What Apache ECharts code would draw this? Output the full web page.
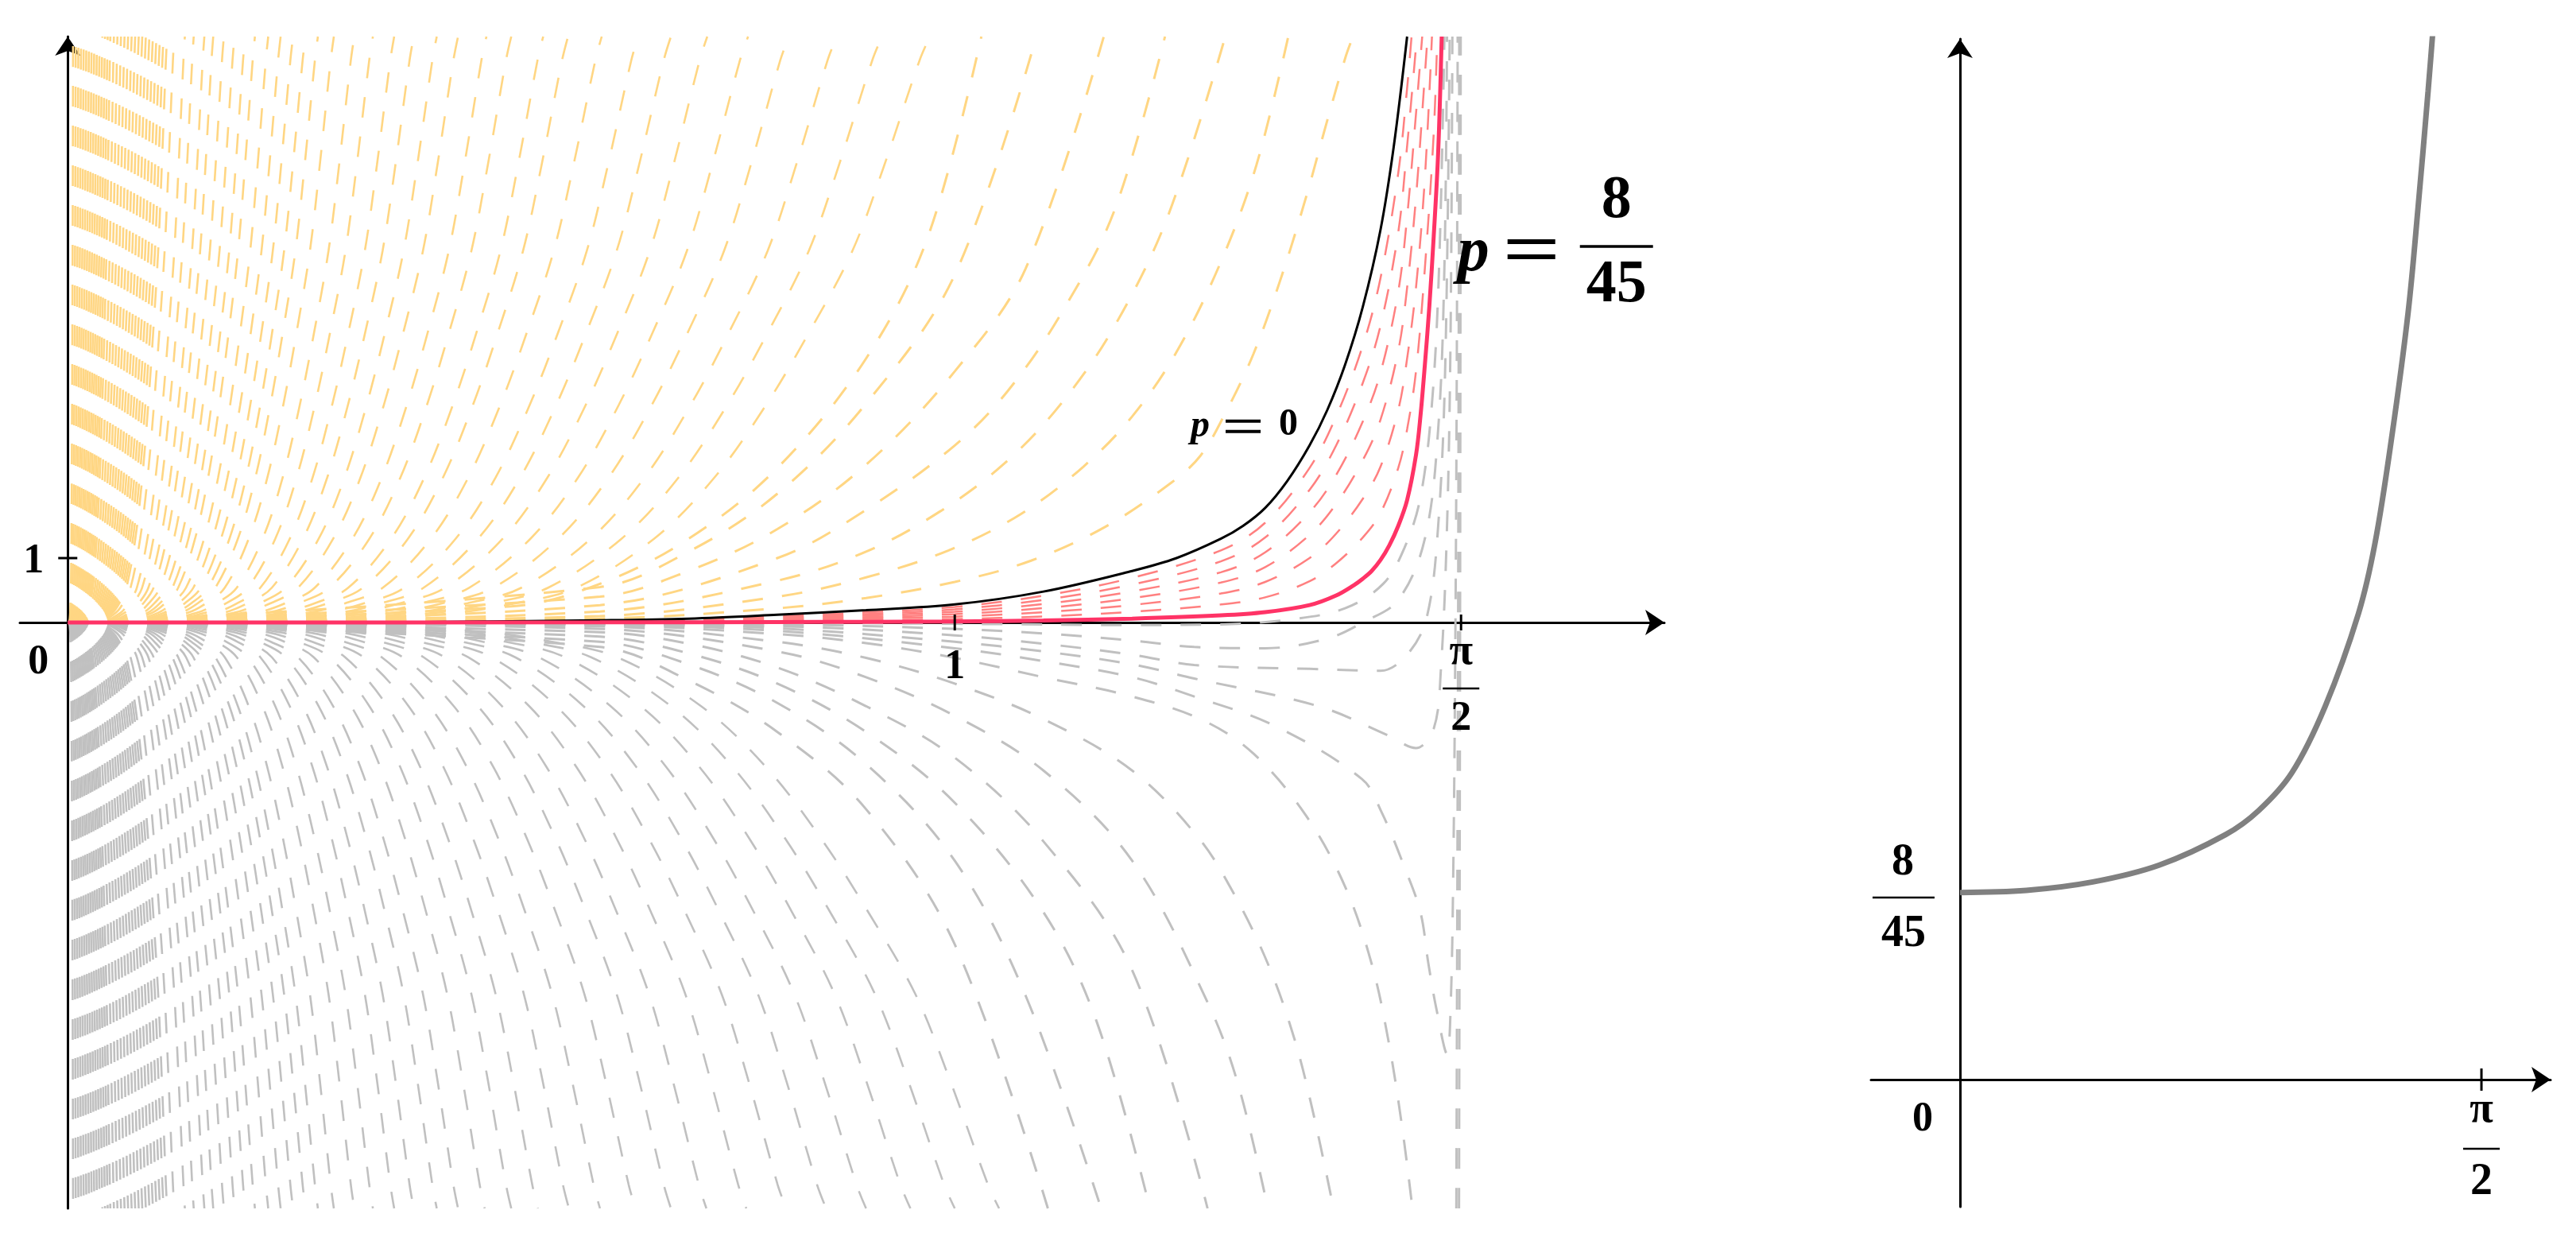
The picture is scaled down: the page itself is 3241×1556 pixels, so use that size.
<!DOCTYPE html>
<html>
<head>
<meta charset="utf-8">
<title>p curves</title>
<script src="https://cdn.jsdelivr.net/npm/echarts@6/dist/echarts.min.js"></script>
<style>
  html, body { margin: 0; padding: 0; background: #fff; }
  #chart { width: 3241px; height: 1556px; }
</style>
</head>
<body>
<div id="chart"></div>
<script>
// ---- data ----

// left plot: p = 0 (black)
const blackCurve = [[0,0],[0.4,0.007],[0.6,0.035],[0.7,0.06],[0.8,0.12],[0.9,0.19],[1.0,0.28],[1.1,0.48],[1.2,0.8],[1.25,1.0],[1.3,1.3],[1.325,1.5],[1.35,1.78],[1.375,2.2],[1.4,2.75],[1.42,3.3],[1.44,4.0],[1.46,4.9],[1.48,6.1],[1.495,7.4],[1.51,9.1]];

// left plot: p = 8/45 (red, thick)
const redCurve = [[0,0],[0.6,0.002],[0.8,0.006],[0.9,0.01],[1.0,0.015],[1.1,0.03],[1.2,0.06],[1.3,0.11],[1.35,0.16],[1.4,0.27],[1.43,0.42],[1.45,0.58],[1.46,0.68],[1.47,0.8],[1.48,0.97],[1.49,1.2],[1.5,1.5],[1.51,1.9],[1.52,2.6],[1.525,3.2],[1.53,4.0],[1.535,4.9],[1.54,6.0],[1.545,7.3],[1.549,9.1]];

// dashed red curves between p = 0 and p = 8/45
const redDash1 = [[0,0],[0.6,0.026],[0.8,0.095],[0.9,0.156],[1.0,0.242],[1.1,0.416],[1.2,0.694],[1.3,1.12],[1.35,1.55],[1.4,2.4],[1.43,3.2],[1.46,4.3],[1.48,5.35],[1.5,6.98],[1.51,8.3],[1.515,9.1]];
const redDash2 = [[0,0],[0.6,0.022],[0.8,0.080],[0.9,0.131],[1.0,0.204],[1.1,0.351],[1.2,0.589],[1.3,0.95],[1.35,1.32],[1.4,2.06],[1.43,2.75],[1.46,3.72],[1.48,4.61],[1.5,6.06],[1.51,7.4],[1.521,9.1]];
const redDash3 = [[0,0],[0.6,0.018],[0.8,0.065],[0.9,0.107],[1.0,0.166],[1.1,0.287],[1.2,0.483],[1.3,0.78],[1.35,1.09],[1.4,1.71],[1.43,2.29],[1.46,3.12],[1.48,3.88],[1.5,5.14],[1.51,6.3],[1.52,7.9],[1.527,9.1]];
const redDash4 = [[0,0],[0.6,0.014],[0.8,0.051],[0.9,0.083],[1.0,0.129],[1.1,0.223],[1.2,0.377],[1.3,0.62],[1.35,0.86],[1.4,1.36],[1.43,1.84],[1.46,2.52],[1.48,3.15],[1.5,4.22],[1.51,5.2],[1.52,6.6],[1.53,8.5],[1.533,9.1]];
const redDash5 = [[0,0],[0.6,0.010],[0.8,0.036],[0.9,0.059],[1.0,0.091],[1.1,0.159],[1.2,0.272],[1.3,0.45],[1.35,0.63],[1.4,1.0],[1.43,1.38],[1.46,1.92],[1.48,2.42],[1.5,3.3],[1.51,4.1],[1.52,5.2],[1.53,6.9],[1.538,9.1]];
const redDash6 = [[0,0],[0.6,0.006],[0.8,0.021],[0.9,0.034],[1.0,0.053],[1.1,0.094],[1.2,0.166],[1.3,0.28],[1.35,0.39],[1.4,0.64],[1.43,0.92],[1.46,1.32],[1.48,1.7],[1.5,2.4],[1.51,3.0],[1.52,3.9],[1.53,5.5],[1.54,7.6],[1.544,9.1]];

// orange dashed curves just above the black one (traced one by one)
const orange1 = [[0,0],[0.6,0.06],[0.8,0.22],[0.9,0.38],[1.0,0.63],[1.086,0.96],[1.169,1.48],[1.244,2.17],[1.277,2.59],[1.305,3.25],[1.337,4.18],[1.369,5.4],[1.397,6.65],[1.42,7.8],[1.441,8.8],[1.449,9.1]];
const orange2 = [[0,0],[0.6,0.1],[0.8,0.4],[0.9,0.7],[0.993,1.12],[1.074,1.68],[1.145,2.42],[1.2,3.2],[1.25,4.2],[1.3,5.6],[1.34,7.1],[1.376,9.1]];
const orange3 = [[0,0],[0.6,0.17],[0.8,0.65],[0.9,1.1],[0.984,1.73],[1.056,2.47],[1.12,3.4],[1.18,4.6],[1.24,6.3],[1.305,9.1]];
const orange4 = [[0,0],[0.6,0.27],[0.8,1.0],[0.9,1.75],[1.0,2.75],[1.06,3.6],[1.12,4.8],[1.18,6.4],[1.237,9.1]];
const orange5 = [[0,0],[0.6,0.4],[0.7,0.8],[0.8,1.45],[0.9,2.45],[1.0,3.9],[1.08,5.5],[1.168,9.1]];
const orange6 = [[0,0],[0.6,0.55],[0.7,1.1],[0.8,2.0],[0.9,3.4],[1.0,5.4],[1.092,9.1]];
const orange7 = [[0,0],[0.5,0.25],[0.6,0.6],[0.7,1.3],[0.8,2.4],[0.9,4.1],[0.97,6.0],[1.03,9.1]];

// gray dashed curves on the right side (traced one by one)
const gray1 = [[0,0],[0.6,-0.38],[0.7,-0.9],[0.8,-1.7],[0.9,-2.9],[1.0,-5.0],[1.105,-9.1]];
const gray2 = [[0,0],[0.6,-0.3],[0.7,-0.65],[0.8,-1.25],[0.9,-2.2],[1.0,-3.7],[1.08,-5.8],[1.165,-9.1]];
const gray3 = [[0,0],[0.6,-0.22],[0.7,-0.48],[0.8,-0.95],[0.9,-1.7],[1.0,-2.8],[1.1,-4.5],[1.16,-6.2],[1.22,-9.1]];
const gray4 = [[0,0],[0.6,-0.15],[0.7,-0.33],[0.8,-0.7],[0.9,-1.3],[1.0,-2.1],[1.1,-3.4],[1.2,-5.4],[1.285,-9.1]];
const gray5 = [[0,0],[0.6,-0.1],[0.8,-0.45],[0.9,-0.85],[1.0,-1.45],[1.1,-2.3],[1.2,-3.7],[1.286,-5.93],[1.32,-7.2],[1.353,-9.1]];
const gray6 = [[0,0],[0.6,-0.06],[0.8,-0.3],[0.9,-0.55],[1.0,-0.95],[1.1,-1.5],[1.2,-2.3],[1.274,-3.33],[1.313,-4.17],[1.353,-5.3],[1.383,-6.47],[1.405,-7.67],[1.427,-9.1]];
const gray7 = [[0,0],[0.6,-0.04],[0.8,-0.18],[0.9,-0.32],[1.0,-0.55],[1.1,-0.85],[1.2,-1.15],[1.28,-1.52],[1.337,-2.04],[1.396,-3.0],[1.44,-4.1],[1.47,-5.3],[1.489,-6.5],[1.504,-7.8],[1.516,-9.1]];
const gray8 = [[0,0],[0.6,-0.03],[0.8,-0.13],[1.0,-0.4],[1.1,-0.6],[1.2,-0.85],[1.27,-1.15],[1.36,-1.6],[1.459,-2.43],[1.481,-2.94],[1.507,-3.8],[1.525,-4.5],[1.534,-5.3],[1.543,-6.0],[1.555,-6.7],[1.559,-6.0],[1.562,-3.9],[1.5645,0],[1.566,4],[1.567,9.1]];
const gray9 = [[0,0],[0.6,-0.02],[0.8,-0.09],[1.0,-0.3],[1.1,-0.45],[1.2,-0.65],[1.27,-0.87],[1.41,-1.3],[1.488,-1.75],[1.52,-1.95],[1.54,-1.65],[1.548,-0.75],[1.555,1.5],[1.559,4.5],[1.561,9.1]];
const gray10 = [[0,0],[0.8,-0.06],[1.0,-0.2],[1.1,-0.33],[1.2,-0.5],[1.27,-0.66],[1.4,-0.72],[1.48,-0.75],[1.51,-0.5],[1.532,0.07],[1.545,1.5],[1.553,4.0],[1.558,9.1]];
const gray11 = [[0,0],[0.8,-0.03],[1.0,-0.1],[1.1,-0.17],[1.2,-0.28],[1.27,-0.38],[1.35,-0.4],[1.42,-0.25],[1.46,0],[1.5,0.35],[1.53,1.3],[1.545,3.0],[1.552,5.5],[1.555,9.1]];
const gray12 = [[0,0],[0.8,-0.005],[1.0,-0.02],[1.2,-0.04],[1.3,-0.03],[1.38,0.05],[1.44,0.22],[1.483,0.6],[1.507,1.16],[1.525,1.94],[1.538,3.4],[1.546,5.5],[1.552,9.1]];
// gray branches coming back up along x = pi/2
const grayBack1 = [[1.5655,-9.1],[1.5675,0],[1.5688,9.1]];
const grayBack2 = [[1.5685,-9.1],[1.5697,0],[1.5704,9.1]];

// shape of one traced fan curve: [x / exit x, y]
const fanProfile = [[0,0],[0.3,0.02],[0.45,0.15],[0.52,0.3],[0.59,0.54],[0.68,1.3],[0.75,2.25],[0.81,3.38],[0.86,4.51],[0.91,5.77],[0.947,7.1],[0.988,8.73],[1.0,9.1]];

// x where the thin fan curves leave the plot (near the y axis they sit tight)
const denseExits = [0.006,0.009,0.012,0.015,0.018,0.021,0.024,0.027,0.03,0.033,0.036,0.039,0.042,0.045,0.048,0.052,0.056,0.060,0.064,0.068,0.072,0.076,0.080,0.084,0.088,0.092,0.096,0.100,0.104,0.108,0.112];
const orangeExits = [0.120,0.132,0.142,0.154,0.164,0.176,0.188,0.200,0.211,0.226,0.240,0.254,0.268,0.282,0.300,0.323,0.344,0.368,0.390,0.416,0.440,0.472,0.500,0.536,0.564,0.602,0.643,0.680,0.721,0.767,0.813,0.867,0.918,0.972];
const grayExits = [0.120,0.132,0.142,0.154,0.164,0.176,0.188,0.200,0.211,0.226,0.240,0.254,0.268,0.282,0.300,0.323,0.344,0.368,0.390,0.416,0.440,0.470,0.500,0.530,0.565,0.600,0.640,0.680,0.720,0.765,0.810,0.855,0.900,0.950,1.000,1.050];

// right plot: gray curve starting at 8/45
const rightCurve = [[0,0.178],[0.2,0.180],[0.4,0.188],[0.6,0.204],[0.8,0.233],[0.9,0.256],[1.0,0.292],[1.1,0.355],[1.2,0.443],[1.25,0.510],[1.3,0.610],[1.35,0.730],[1.38,0.830],[1.41,0.940],[1.43,1.02]];

// ---- chart ----
const chart = echarts.init(document.getElementById('chart'));

const ORANGE = '#FFD683';
const GRAY = '#C0C0C0';
const SALMON = '#FF8080';
const RED = '#FF3366';
const DASH = [26, 24];

function line(data, color, width, z, dashed, grid) {
  return {
    type: 'line',
    xAxisIndex: grid || 0,
    yAxisIndex: grid || 0,
    data: data,
    symbol: 'none',
    smooth: 0.35,
    clip: true,
    silent: true,
    z: z,
    lineStyle: { color: color, width: width, type: dashed ? DASH : 'solid' }
  };
}

function fan(exit, sign) {
  return fanProfile.map(p => [p[0] * exit, sign * p[1]]);
}

const series = [];
denseExits.concat(grayExits).forEach(e => series.push(line(fan(e, -1), GRAY, 2.6, 1, true)));
[gray1, gray2, gray3, gray4, gray5, gray6, gray7, gray8, gray9, gray10, gray11, gray12, grayBack1, grayBack2]
  .forEach(c => series.push(line(c, GRAY, 3, 1, true)));
denseExits.concat(orangeExits).forEach(e => series.push(line(fan(e, 1), ORANGE, 2.6, 1, true)));
[orange1, orange2, orange3, orange4, orange5, orange6, orange7]
  .forEach(c => series.push(line(c, ORANGE, 3, 1, true)));
[redDash1, redDash2, redDash3, redDash4, redDash5, redDash6]
  .forEach(c => series.push(line(c, SALMON, 2.5, 2, true)));
series.push(line(blackCurve, '#000', 3, 3, false));
series.push(line(redCurve, RED, 5, 4, false));
series.push(line(rightCurve, '#808080', 7, 3, false, 1));

const axisLine = {
  onZero: true,
  symbol: ['none', 'arrow'],
  symbolSize: [24, 24],
  lineStyle: { color: '#000', width: 3 }
};
const bare = {
  type: 'value',
  axisLine: axisLine,
  axisTick: { show: false },
  axisLabel: { show: false },
  splitLine: { show: false }
};

chart.setOption({
  animation: false,
  backgroundColor: '#fff',
  grid: [
    { left: 25, top: 46, width: 2069, height: 1474 },
    { left: 2354, top: 49, width: 855, height: 1469 }
  ],
  xAxis: [
    Object.assign({ gridIndex: 0, min: -0.054, max: 1.8 }, bare),
    Object.assign({ gridIndex: 1, min: -0.268, max: 1.779 }, bare)
  ],
  yAxis: [
    Object.assign({ gridIndex: 0, min: -9.1, max: 9.1 }, bare),
    Object.assign({ gridIndex: 1, min: -0.121, max: 0.99 }, bare)
  ],
  series: series
});

// ---- labels, ticks and fractions ----
const HALF_PI = Math.PI / 2;
const FONT = '"Liberation Serif", "DejaVu Serif", serif';

function px(g, pt) { return chart.convertToPixel({ gridIndex: g }, pt); }
function txt(p, dx, dy, s, size, italic) {
  return {
    type: 'text', z: 100, x: p[0] + dx, y: p[1] + dy,
    style: {
      text: s, fill: '#000', align: 'center', verticalAlign: 'middle',
      font: (italic ? 'italic ' : '') + 'bold ' + size + 'px ' + FONT
    }
  };
}
function seg(p, x1, y1, x2, y2, w) {
  return {
    type: 'line', z: 100,
    shape: { x1: p[0] + x1, y1: p[1] + y1, x2: p[0] + x2, y2: p[1] + y2 },
    style: { stroke: '#000', lineWidth: w || 3 }
  };
}

const o1 = px(0, [0, 0]);
const y1 = px(0, [0, 1]);
const x1 = px(0, [1, 0]);
const xp = px(0, [HALF_PI, 0]);
const pZero = px(0, [1.326, 3.04]);
const pRed = px(0, [1.746, 5.84]);
const o2 = px(1, [0, 0]);
const f0 = px(1, [0, 8 / 45]);
const xp2 = px(1, [HALF_PI, 0]);

const g = [
  txt(o1, -37, 51, '0', 52),
  seg(y1, -12, 0, 12, 0), txt(y1, -43, 5, '1', 52),
  seg(x1, 0, -10, 0, 10), txt(x1, 0, 57, '1', 52),
  seg(xp, 0, -10, 0, 10), txt(xp, 0, 38, 'π', 54), seg(xp, -23, 83, 23, 83, 2.5), txt(xp, 0, 122, '2', 52),
  // p = 0
  txt(pZero, -55, 0, 'p', 48, true),
  seg(pZero, -23, -7, 21, -7, 4), seg(pZero, -23, 6, 21, 6, 4),
  txt(pZero, 56, -2, '0', 48),
  // p = 8/45
  txt(pRed, -180, 9, 'p', 80, true),
  seg(pRed, -137, -6, -77, -6, 6), seg(pRed, -137, 13, -77, 13, 6),
  txt(pRed, 0, -57, '8', 76), seg(pRed, -46, 0, 46, 0, 3.5), txt(pRed, 0, 49, '45', 76),
  // right plot
  txt(o2, -47, 51, '0', 52),
  txt(f0, -72, -37, '8', 56), seg(f0, -110, 6, -32, 6, 2.5), txt(f0, -71, 53, '45', 56),
  seg(xp2, 0, -14, 0, 14), txt(xp2, 0, 39, 'π', 54), seg(xp2, -23, 87, 23, 87, 2.5), txt(xp2, 0, 130, '2', 56)
];
chart.setOption({ graphic: g });
</script>
</body>
</html>
